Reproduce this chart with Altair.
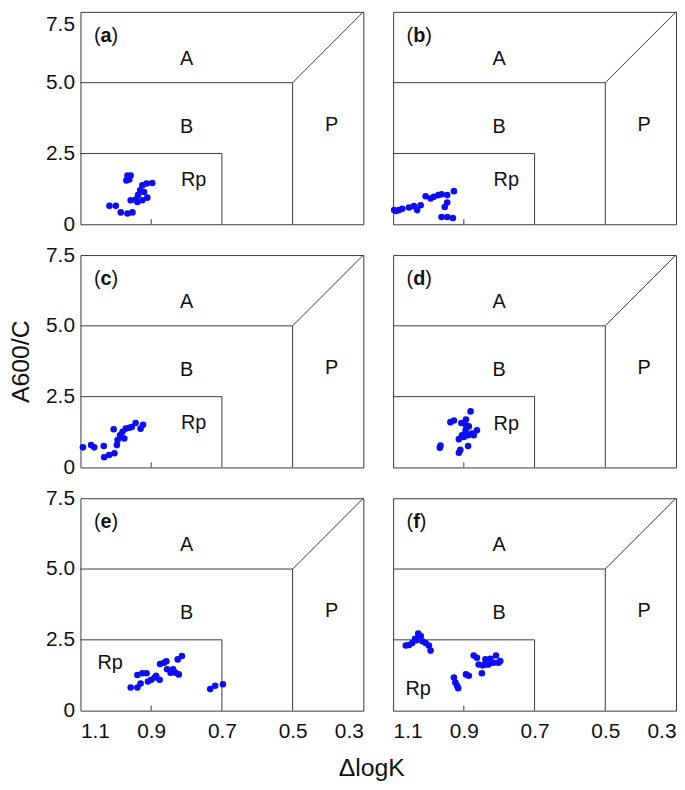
import altair as alt
import pandas as pd

# ---------------- data ----------------
letters = ["a", "b", "c", "d", "e", "f"]

a_x = [0.967, 0.958, 0.970, 0.962, 1.018, 1.000, 0.986, 0.967, 0.953, 0.958, 0.939, 0.925, 0.911, 0.937, 0.931, 0.925, 0.913, 0.897, 0.920, 0.944]
a_y = [1.72, 1.72, 1.55, 1.58, 0.65, 0.65, 0.42, 0.38, 0.42, 0.85, 0.79, 0.85, 0.94, 1.03, 1.20, 1.38, 1.44, 1.46, 1.14, 0.87]

b_x = [1.097, 1.083, 1.074, 1.055, 1.041, 1.032, 1.022, 1.008, 0.994, 0.985, 0.972, 0.963, 0.947, 0.928, 0.947, 0.954, 0.963, 0.947, 0.931, 1.092]
b_y = [0.50, 0.50, 0.55, 0.59, 0.64, 0.50, 0.67, 0.99, 0.91, 0.97, 1.03, 1.06, 1.03, 1.17, 0.77, 0.61, 0.26, 0.26, 0.22, 0.47]

c_x = [1.093, 1.070, 1.061, 1.034, 1.033, 1.019, 1.004, 1.006, 0.995, 0.997, 0.986, 0.981, 0.972, 0.962, 0.955, 0.944, 0.930, 0.923, 0.976, 0.988]
c_y = [0.71, 0.79, 0.71, 0.76, 0.36, 0.44, 0.50, 1.35, 0.97, 0.79, 1.08, 1.26, 1.37, 1.40, 1.43, 1.57, 1.37, 1.51, 1.02, 1.14]

d_x = [0.966, 0.968, 0.938, 0.928, 0.907, 0.894, 0.881, 0.886, 0.895, 0.905, 0.914, 0.900, 0.888, 0.877, 0.863, 0.888, 0.914, 0.910, 0.894, 0.872]
d_y = [0.77, 0.70, 1.60, 1.66, 1.57, 1.69, 1.98, 1.45, 1.31, 1.14, 1.00, 1.08, 1.14, 1.20, 1.31, 0.76, 0.52, 0.62, 1.49, 1.14]

e_x = [0.958, 0.939, 0.930, 0.939, 0.925, 0.913, 0.909, 0.900, 0.890, 0.886, 0.876, 0.875, 0.864, 0.857, 0.855, 0.845, 0.838, 0.831, 0.822, 0.825, 0.813, 0.733, 0.719, 0.697]
e_y = [0.82, 0.82, 0.96, 1.26, 1.32, 1.32, 1.03, 1.09, 1.17, 1.23, 1.09, 1.65, 1.69, 1.74, 1.46, 1.34, 1.46, 1.34, 1.28, 1.81, 1.93, 0.76, 0.88, 0.93]

f_x = [1.064, 1.055, 1.046, 1.038, 1.029, 1.022, 1.017, 1.008, 0.999, 0.994, 1.034, 0.928, 0.924, 0.919, 0.916, 0.894, 0.886, 0.872, 0.863, 0.858, 0.849, 0.847, 0.839, 0.830, 0.825, 0.816, 0.809, 0.802, 0.797, 0.837]
f_y = [2.30, 2.32, 2.39, 2.54, 2.72, 2.63, 2.45, 2.39, 2.30, 2.12, 2.49, 1.17, 0.99, 0.88, 0.79, 1.28, 1.23, 1.95, 1.87, 1.63, 1.32, 1.60, 1.81, 1.63, 1.83, 1.69, 1.95, 1.69, 1.75, 1.63]

series_x = [a_x, b_x, c_x, d_x, e_x, f_x]
series_y = [a_y, b_y, c_y, d_y, e_y, f_y]

# region boundary segments (x, y, x2, y2)
seg_x = [1.1, 0.5, 0.5, 1.1, 0.7, 0.9]
seg_y = [5.0, 0.0, 5.0, 2.5, 0.0, 0.0]
seg_x2 = [0.5, 0.5, 0.3, 0.7, 0.7, 0.9]
seg_y2 = [5.0, 5.0, 7.5, 2.5, 2.5, 0.18]

# region labels
region_text = ["A", "B", "P"]
region_x = [0.80, 0.80, 0.39]
region_y = [5.83, 3.45, 3.50]

# Rp label positions per panel
rp_x = [0.78, 0.78, 0.78, 0.78, 1.016, 1.029]
rp_y = [1.56, 1.56, 1.56, 1.55, 1.69, 0.76]

x_ticks = [1.1, 0.9, 0.7, 0.5, 0.3]
y_ticks = [0, 2.5, 5.0, 7.5]

# ---------------- style ----------------
FONT = "Liberation Sans"
LINE = "#3a3a3a"
W, H = 285, 214
bold_w = {"a": 11.1, "b": 12.2, "c": 11.1, "d": 12.2, "e": 11.1, "f": 6.7}

seg_df = pd.DataFrame({"x": seg_x, "y": seg_y, "x2": seg_x2, "y2": seg_y2})
reg_df = pd.DataFrame({"t": region_text, "x": region_x, "y": region_y})


def panel(i):
    letter = letters[i]
    left = i % 2 == 0
    bottom = i >= 4
    xscale = alt.Scale(domain=[0.3, 1.1], reverse=True, nice=False, zero=False)
    yscale = alt.Scale(domain=[0, 7.5], nice=False)

    if bottom:
        xaxis = alt.Axis(values=x_ticks, format=".1f", labels=True, ticks=False,
                         domain=False, grid=False, labelPadding=10,
                         title="ΔlogK" if i == 4 else None,
                         titleX=293, titlePadding=14)
    else:
        xaxis = alt.Axis(values=x_ticks, labels=False, ticks=False, domain=False,
                         grid=False, title=None)
    if left:
        extra = {}
        if i == 0:
            extra = dict(
                labelBaseline={"condition": {"test": "datum.value == 7.5", "value": "top"},
                               "value": "middle"},
                labelOffset={"condition": {"test": "datum.value == 7.5", "value": 2},
                             "value": 0},
            )
        yaxis = alt.Axis(values=y_ticks, ticks=False, domain=False, grid=False,
                         labelPadding=6,
                         labelExpr="datum.value == 0 ? '0' : format(datum.value, '.1f')",
                         title="A600/C" if i == 2 else None, titlePadding=12, **extra)
    else:
        yaxis = alt.Axis(values=y_ticks, labels=False, ticks=False, domain=False,
                         grid=False, title=None)

    X = lambda f: alt.X(f, type="quantitative", scale=xscale, axis=xaxis)
    Y = lambda f: alt.Y(f, type="quantitative", scale=yscale, axis=yaxis)

    segs = alt.Chart(seg_df).mark_rule(color=LINE, strokeWidth=1).encode(
        x=X("x"), y=Y("y"), x2="x2", y2="y2")

    pts_df = pd.DataFrame({"x": series_x[i], "y": series_y[i]})
    pts = alt.Chart(pts_df).mark_circle(size=44, color="#0c0cf5", opacity=1).encode(
        x=X("x"), y=Y("y"))

    regs = alt.Chart(reg_df).mark_text(font=FONT, fontSize=20, color="#111111",
                                       baseline="middle", align="center").encode(
        x=X("x"), y=Y("y"), text="t:N")

    rp_df = pd.DataFrame({"t": ["Rp"], "x": [rp_x[i]], "y": [rp_y[i]]})
    rp = alt.Chart(rp_df).mark_text(font=FONT, fontSize=20, color="#111111",
                                    baseline="middle", align="center").encode(
        x=X("x"), y=Y("y"), text="t:N")

    lab_df = pd.DataFrame({"x": [1.062], "y": [6.65], "o": ["("], "l": [letter], "c": [")"]})
    lp = alt.Chart(lab_df).mark_text(font=FONT, fontSize=20, color="#111111",
                                     baseline="middle", align="left").encode(
        x=X("x"), y=Y("y"), text="o:N")
    ll = alt.Chart(lab_df).mark_text(font=FONT, fontSize=20, fontWeight="bold",
                                     color="#111111", baseline="middle", align="left",
                                     dx=6.7).encode(x=X("x"), y=Y("y"), text="l:N")
    lc = alt.Chart(lab_df).mark_text(font=FONT, fontSize=20, color="#111111",
                                     baseline="middle", align="left",
                                     dx=6.7 + bold_w[letter]).encode(
        x=X("x"), y=Y("y"), text="c:N")

    return alt.layer(segs, pts, regs, rp, lp, ll, lc).properties(width=W, height=H)


chart = alt.concat(*[panel(i) for i in range(6)], columns=2,
                   spacing={"row": 31, "column": 30}, bounds="flush").properties(
    padding={"left": 0, "top": 0, "right": 0, "bottom": 0}
).configure_view(
    stroke=LINE, strokeWidth=1
).configure_axis(
    labelFont=FONT, labelFontSize=21, labelColor="#111111",
    titleFont=FONT, titleFontSize=25, titleColor="#111111", titleFontWeight="normal"
)

chart.save("out.html", embed_options={"renderer": "svg", "actions": False})
